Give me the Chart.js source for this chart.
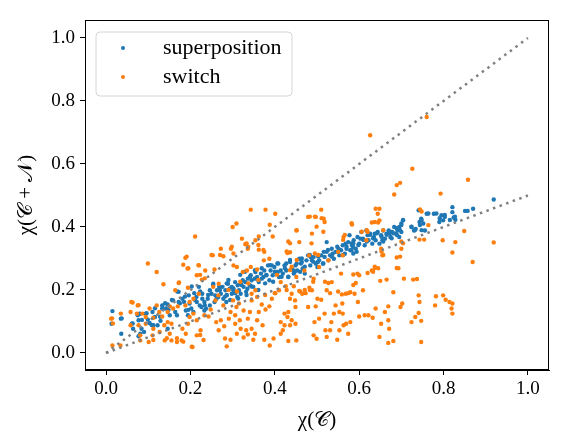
<!DOCTYPE html>
<html>
<head>
<meta charset="utf-8">
<script src="https://cdn.jsdelivr.net/npm/chart.js@4.4.1/dist/chart.umd.min.js"></script>
<style>
  html, body { margin: 0; padding: 0; background: #fff; }
</style>
</head>
<body>
<canvas id="chart" width="573" height="446"></canvas>
<script>
// superposition points [x, y]
const superpositionPoints = [
  [0.015,0.133],[0.013,0.093],[0.035,0.109],[0.036,0.061],[0.061,0.093],[0.064,0.077],[0.075,0.120],[0.077,0.104],
  [0.080,0.125],[0.084,0.077],[0.090,0.067],[0.077,0.053],[0.081,0.061],[0.094,0.125],[0.099,0.106],[0.103,0.095],
  [0.110,0.130],[0.116,0.114],[0.112,0.088],[0.122,0.088],[0.129,0.102],[0.133,0.141],[0.133,0.151],[0.142,0.141],
  [0.146,0.154],[0.151,0.120],[0.146,0.077],[0.159,0.167],[0.164,0.130],[0.168,0.120],[0.172,0.162],[0.172,0.194],
  [0.181,0.172],[0.185,0.162],[0.189,0.135],[0.194,0.120],[0.196,0.183],[0.198,0.157],[0.202,0.141],[0.207,0.130],
  [0.209,0.190],[0.214,0.178],[0.215,0.162],[0.220,0.210],[0.222,0.151],[0.226,0.146],[0.228,0.172],[0.233,0.162],
  [0.237,0.141],[0.241,0.172],[0.246,0.151],[0.250,0.188],[0.254,0.220],[0.257,0.162],[0.263,0.199],[0.266,0.178],
  [0.272,0.188],[0.276,0.210],[0.278,0.172],[0.283,0.199],[0.286,0.183],[0.289,0.220],[0.293,0.204],[0.298,0.188],
  [0.302,0.199],[0.306,0.225],[0.311,0.178],[0.312,0.215],[0.315,0.199],[0.319,0.188],[0.324,0.231],[0.326,0.210],
  [0.330,0.225],[0.332,0.194],[0.336,0.236],[0.341,0.215],[0.343,0.247],[0.345,0.231],[0.349,0.210],[0.354,0.257],
  [0.358,0.241],[0.362,0.225],[0.367,0.252],[0.369,0.236],[0.375,0.262],[0.380,0.247],[0.384,0.278],[0.387,0.231],
  [0.390,0.262],[0.395,0.247],[0.399,0.273],[0.404,0.257],[0.406,0.284],[0.410,0.241],[0.414,0.262],[0.419,0.252],
  [0.423,0.278],[0.427,0.262],[0.432,0.241],[0.436,0.289],[0.440,0.268],[0.445,0.252],[0.449,0.278],[0.453,0.262],
  [0.458,0.299],[0.462,0.284],[0.466,0.268],[0.471,0.252],[0.475,0.294],[0.479,0.310],[0.484,0.278],[0.488,0.294],
  [0.492,0.305],[0.497,0.284],[0.501,0.273],[0.505,0.294],[0.510,0.310],[0.514,0.284],[0.518,0.305],[0.523,0.352],
  [0.523,0.321],[0.527,0.294],[0.531,0.310],[0.535,0.331],[0.540,0.299],[0.544,0.321],[0.548,0.337],[0.553,0.310],
  [0.557,0.326],[0.561,0.342],[0.566,0.315],[0.570,0.331],[0.574,0.352],[0.577,0.374],[0.579,0.326],[0.583,0.342],
  [0.587,0.358],[0.592,0.331],[0.596,0.368],[0.600,0.347],[0.605,0.384],[0.609,0.363],[0.613,0.342],[0.617,0.389],
  [0.622,0.358],[0.626,0.379],[0.631,0.347],[0.635,0.368],[0.639,0.358],[0.644,0.384],[0.648,0.347],[0.652,0.374],
  [0.657,0.389],[0.661,0.363],[0.665,0.379],[0.670,0.389],[0.674,0.368],[0.678,0.384],[0.683,0.400],[0.687,0.379],
  [0.691,0.389],[0.695,0.368],[0.700,0.411],[0.704,0.421],[0.700,0.384],[0.724,0.400],[0.730,0.389],[0.734,0.394],
  [0.741,0.453],[0.743,0.416],[0.747,0.426],[0.752,0.411],[0.756,0.389],[0.760,0.442],[0.777,0.442],[0.790,0.416],
  [0.795,0.437],[0.799,0.421],[0.803,0.432],[0.821,0.463],[0.824,0.430],[0.828,0.423],[0.821,0.447],[0.851,0.451],
  [0.857,0.451],[0.870,0.458],[0.919,0.487],
  [0.228,0.188],[0.233,0.135],[0.246,0.199],[0.259,0.183],[0.268,0.210],[0.285,0.162],[0.298,0.210],[0.319,0.220],
  [0.335,0.204],[0.352,0.236],[0.373,0.241],[0.393,0.278],[0.407,0.257],[0.427,0.284],[0.447,0.257],[0.464,0.289],
  [0.485,0.305],[0.502,0.289],[0.516,0.321],[0.537,0.315],[0.551,0.331],[0.568,0.347],[0.585,0.337],[0.603,0.363],
  [0.620,0.374],[0.637,0.379],[0.655,0.358],[0.672,0.379],[0.690,0.374],[0.695,0.400],
  [0.290,0.232],[0.302,0.205],[0.318,0.248],[0.329,0.258],[0.341,0.242],[0.353,0.263],[0.361,0.232],[0.369,0.269],
  [0.380,0.248],[0.389,0.279],[0.400,0.258],[0.408,0.284],[0.416,0.242],[0.424,0.269],[0.436,0.295],[0.444,0.263],
  [0.452,0.284],[0.464,0.300],[0.471,0.274],[0.483,0.311],[0.491,0.290],[0.503,0.306],[0.515,0.284],[0.526,0.327],
  [0.535,0.306],[0.550,0.321],[0.562,0.311],[0.570,0.337],[0.582,0.348],[0.586,0.316],[0.306,0.190],[0.321,0.216],
  [0.345,0.211],[0.377,0.221],[0.396,0.226],[0.432,0.242],[0.460,0.258],[0.286,0.184],[0.294,0.168],[0.313,0.173],
  [0.333,0.184],[0.361,0.200],
  [0.037,0.110],[0.063,0.094],[0.079,0.124],[0.085,0.105],[0.096,0.126],[0.108,0.089],[0.116,0.142],[0.128,0.115],
  [0.140,0.158],[0.148,0.137],[0.156,0.168],[0.169,0.195],[0.175,0.158],[0.187,0.179],[0.195,0.137],[0.203,0.211],
  [0.211,0.168],[0.223,0.195],[0.234,0.152],[0.242,0.184],[0.254,0.216],[0.262,0.173],[0.270,0.200],[0.282,0.179],
  [0.286,0.221],
  [0.783,0.443],[0.791,0.428],[0.803,0.438],[0.815,0.422],[0.827,0.433],[0.764,0.443],[0.748,0.422],[0.744,0.406],
  [0.748,0.390],[0.732,0.390],[0.724,0.401],[0.704,0.422],[0.700,0.406],[0.697,0.390],[0.689,0.396],[0.681,0.380],
  [0.673,0.385],[0.665,0.375],[0.653,0.369],[0.642,0.380],[0.633,0.364],[0.626,0.375],[0.618,0.354],[0.610,0.359],
  [0.598,0.343],[0.586,0.348],[0.582,0.327],[0.594,0.321],[0.657,0.354],[0.677,0.364]
];

// switch points [x, y]
const switchPoints = [
  [0.760,0.749],[0.626,0.691],[0.726,0.585],[0.858,0.550],[0.697,0.540],[0.689,0.533],[0.683,0.503],[0.793,0.506],
  [0.849,0.387],[0.919,0.351],[0.869,0.289],[0.798,0.358],[0.821,0.319],[0.828,0.352],[0.743,0.360],[0.754,0.360],
  [0.700,0.331],[0.689,0.303],[0.689,0.270],[0.706,0.236],[0.728,0.233],[0.737,0.235],[0.681,0.193],[0.665,0.233],
  [0.650,0.229],[0.637,0.270],[0.630,0.262],[0.620,0.254],[0.609,0.199],[0.600,0.247],[0.586,0.249],[0.589,0.188],
  [0.579,0.193],[0.568,0.188],[0.559,0.186],[0.560,0.157],[0.553,0.130],[0.561,0.125],[0.540,0.125],[0.544,0.151],
  [0.579,0.098],[0.569,0.093],[0.563,0.088],[0.574,0.061],[0.553,0.072],[0.531,0.072],[0.548,0.042],[0.534,0.098],
  [0.518,0.125],[0.510,0.169],[0.523,0.199],[0.527,0.222],[0.535,0.225],[0.557,0.252],[0.563,0.368],[0.583,0.408],
  [0.648,0.421],[0.644,0.442],[0.639,0.458],[0.648,0.458],[0.620,0.384],[0.617,0.358],[0.637,0.416],[0.652,0.331],
  [0.655,0.310],[0.613,0.120],[0.622,0.120],[0.639,0.141],[0.669,0.148],[0.661,0.130],[0.652,0.093],[0.669,0.104],
  [0.671,0.077],[0.648,0.051],[0.669,0.032],[0.681,0.038],[0.698,0.146],[0.702,0.157],[0.724,0.098],[0.733,0.114],
  [0.741,0.127],[0.741,0.183],[0.743,0.162],[0.747,0.102],[0.747,0.035],[0.782,0.180],[0.780,0.151],[0.799,0.183],
  [0.805,0.169],[0.814,0.162],[0.819,0.141],[0.821,0.157],[0.821,0.125],[0.632,0.112],[0.600,0.116],[0.494,0.098],
  [0.492,0.056],[0.499,0.045],[0.501,0.172],[0.497,0.148],[0.488,0.199],[0.482,0.207],[0.473,0.190],[0.465,0.188],
  [0.458,0.197],[0.451,0.241],[0.445,0.212],[0.440,0.188],[0.436,0.172],[0.448,0.167],[0.449,0.146],[0.432,0.130],
  [0.423,0.125],[0.430,0.114],[0.440,0.104],[0.449,0.093],[0.436,0.088],[0.423,0.088],[0.414,0.098],[0.419,0.072],
  [0.414,0.061],[0.432,0.038],[0.451,0.040],[0.397,0.046],[0.388,0.024],[0.375,0.042],[0.371,0.088],[0.358,0.104],
  [0.362,0.130],[0.369,0.154],[0.378,0.138],[0.387,0.148],[0.393,0.172],[0.401,0.190],[0.410,0.199],[0.414,0.225],
  [0.426,0.212],[0.430,0.317],[0.436,0.320],[0.451,0.389],[0.458,0.352],[0.479,0.432],[0.497,0.432],[0.510,0.455],
  [0.516,0.426],[0.518,0.416],[0.488,0.379],[0.481,0.310],[0.470,0.262],[0.401,0.442],[0.388,0.407],[0.395,0.370],
  [0.362,0.370],[0.354,0.358],[0.378,0.455],[0.343,0.455],[0.309,0.411],[0.300,0.400],[0.322,0.363],[0.330,0.345],
  [0.336,0.331],[0.296,0.331],[0.272,0.331],[0.278,0.307],[0.302,0.278],[0.310,0.273],[0.324,0.257],[0.334,0.262],
  [0.343,0.273],[0.358,0.265],[0.362,0.328],[0.375,0.321],[0.374,0.294],[0.387,0.299],[0.253,0.310],[0.257,0.265],
  [0.235,0.262],[0.220,0.278],[0.215,0.247],[0.227,0.233],[0.211,0.370],[0.188,0.302],[0.183,0.280],[0.193,0.268],
  [0.099,0.284],[0.120,0.257],[0.136,0.218],[0.172,0.222],[0.164,0.199],[0.194,0.207],[0.220,0.188],[0.207,0.172],
  [0.198,0.162],[0.188,0.151],[0.170,0.148],[0.159,0.141],[0.151,0.148],[0.146,0.130],[0.133,0.116],[0.126,0.130],
  [0.120,0.151],[0.103,0.141],[0.094,0.114],[0.086,0.125],[0.075,0.151],[0.060,0.162],[0.058,0.130],[0.035,0.125],
  [0.012,0.109],[0.015,0.024],[0.034,0.024],[0.058,0.088],[0.077,0.088],[0.081,0.056],[0.081,0.040],[0.101,0.035],
  [0.110,0.056],[0.112,0.077],[0.127,0.067],[0.138,0.088],[0.151,0.061],[0.155,0.093],[0.146,0.098],[0.139,0.040],
  [0.155,0.040],[0.168,0.035],[0.179,0.040],[0.189,0.061],[0.181,0.077],[0.194,0.093],[0.198,0.114],[0.207,0.125],
  [0.215,0.104],[0.224,0.072],[0.215,0.056],[0.205,0.019],[0.233,0.120],[0.243,0.116],[0.248,0.138],[0.259,0.167],
  [0.266,0.183],[0.261,0.098],[0.272,0.104],[0.267,0.072],[0.280,0.085],[0.282,0.046],[0.286,0.021],[0.295,0.042],
  [0.291,0.109],[0.295,0.130],[0.306,0.120],[0.309,0.146],[0.301,0.167],[0.315,0.157],[0.326,0.135],[0.341,0.130],
  [0.336,0.109],[0.317,0.104],[0.306,0.093],[0.319,0.077],[0.332,0.072],[0.345,0.077],[0.336,0.059],[0.353,0.061],
  [0.349,0.042],[0.326,0.049],[0.310,0.061],[0.354,0.199],[0.345,0.188],[0.345,0.167],[0.358,0.178],[0.278,0.151],
  [0.267,0.220],[0.254,0.210],[0.479,0.146],[0.492,0.236],[0.505,0.273],[0.527,0.294],[0.561,0.310],[0.596,0.252],
  [0.592,0.222],[0.597,0.162],[0.520,0.072],[0.505,0.109],[0.523,0.051],[0.073,0.125],[0.094,0.093],[0.112,0.112],
  [0.744,0.456],[0.748,0.449],[0.630,0.414],[0.645,0.414],[0.606,0.385],[0.618,0.390],[0.657,0.390],[0.764,0.406],
  [0.700,0.354],[0.704,0.348],[0.697,0.306],[0.693,0.269],[0.653,0.322],[0.657,0.311],[0.637,0.274],[0.645,0.269],
  [0.633,0.258],
  [0.483,0.433],[0.495,0.433],[0.511,0.428],[0.499,0.401],[0.515,0.385],[0.582,0.412],[0.452,0.390],[0.432,0.354],
  [0.436,0.348],[0.487,0.348],[0.566,0.375],[0.562,0.359],[0.361,0.343],[0.373,0.327],[0.333,0.348],[0.337,0.337],
  [0.298,0.337],[0.302,0.316],[0.428,0.322],[0.452,0.295],[0.495,0.316],[0.503,0.311],[0.550,0.321],[0.440,0.274],
  [0.436,0.263],[0.405,0.248],[0.361,0.232],[0.318,0.226],[0.337,0.221],[0.290,0.200],[0.310,0.195],
  [0.377,0.184],[0.400,0.190],[0.428,0.200],[0.460,0.195],[0.471,0.200],[0.483,0.200],[0.491,0.226],[0.519,0.226],
  [0.531,0.190],[0.550,0.195],[0.574,0.190],[0.586,0.216],
  [0.191,0.306],[0.195,0.269],[0.173,0.224],[0.219,0.279],[0.223,0.248],[0.234,0.237],[0.250,0.311],[0.270,0.311],
  [0.063,0.160],[0.077,0.152],[0.014,0.110],[0.016,0.094],[0.112,0.041],[0.144,0.047],[0.168,0.047],[0.183,0.036],
  [0.203,0.020],[0.223,0.057],[0.231,0.041]
];

// dotted reference lines
const identityLine = [[0, 0], [1, 1]];
const halfLine = [[0, 0], [1, 0.5]];

const xTicks = [0.0, 0.2, 0.4, 0.6, 0.8, 1.0];
const yTicks = [0.0, 0.2, 0.4, 0.6, 0.8, 1.0];

const toXY = pts => pts.map(p => ({ x: p[0], y: p[1] }));

const serif = '"Liberation Serif", "DejaVu Serif", serif';
const blue = '#1f77b4';
const orange = '#ff7f0e';

// frame around plot + matplotlib style legend box
const frameLegend = {
  id: 'frameLegend',
  afterDraw(chart) {
    const { ctx, chartArea: a } = chart;
    ctx.save();
    ctx.strokeStyle = '#000';
    ctx.lineWidth = 1;
    ctx.strokeRect(a.left + 0.5, a.top + 0.5, a.right - a.left - 1, a.bottom - a.top - 1);

    const bx = a.left + 11, by = a.top + 12, bw = 196, bh = 64, r = 4;
    ctx.beginPath();
    ctx.moveTo(bx + r, by);
    ctx.arcTo(bx + bw, by, bx + bw, by + bh, r);
    ctx.arcTo(bx + bw, by + bh, bx, by + bh, r);
    ctx.arcTo(bx, by + bh, bx, by, r);
    ctx.arcTo(bx, by, bx + bw, by, r);
    ctx.closePath();
    ctx.fillStyle = 'rgba(255,255,255,0.8)';
    ctx.fill();
    ctx.strokeStyle = '#d6d6d6';
    ctx.stroke();

    const entries = chart.data.datasets.filter(d => d.showInLegend);
    ctx.font = '22px ' + serif;
    ctx.textBaseline = 'middle';
    entries.forEach((d, i) => {
      const yy = by + 16 + i * 29;
      ctx.fillStyle = d.backgroundColor;
      ctx.beginPath();
      ctx.arc(bx + 27, yy, 2, 0, Math.PI * 2);
      ctx.fill();
      ctx.fillStyle = '#000';
      ctx.fillText(d.label, bx + 67, yy);
    });
    ctx.restore();
  }
};

new Chart(document.getElementById('chart'), {
  type: 'scatter',
  data: {
    datasets: [
      {
        label: 'superposition',
        data: toXY(superpositionPoints),
        backgroundColor: blue,
        borderWidth: 0,
        pointRadius: 2.2,
        showInLegend: true,
        order: 3
      },
      {
        label: 'switch',
        data: toXY(switchPoints),
        backgroundColor: orange,
        borderWidth: 0,
        pointRadius: 2.2,
        showInLegend: true,
        order: 2
      },
      {
        label: 'y = x',
        type: 'line',
        data: toXY(identityLine),
        borderColor: '#808080',
        borderWidth: 2.5,
        borderDash: [2.5, 4.5],
        pointRadius: 0,
        fill: false,
        order: 1
      },
      {
        label: 'y = x/2',
        type: 'line',
        data: toXY(halfLine),
        borderColor: '#808080',
        borderWidth: 2.5,
        borderDash: [2.5, 4.5],
        pointRadius: 0,
        fill: false,
        order: 1
      }
    ]
  },
  options: {
    responsive: false,
    animation: false,
    devicePixelRatio: 1,
    layout: { padding: { left: 0, right: 24, top: 20, bottom: 0 } },
    plugins: {
      legend: { display: false },
      tooltip: { enabled: false }
    },
    scales: {
      x: {
        type: 'linear',
        min: -0.05,
        max: 1.05,
        afterBuildTicks: s => { s.ticks = xTicks.map(v => ({ value: v })); },
        afterFit: s => { s.height = 76; },
        ticks: {
          color: '#000',
          font: { family: serif, size: 19 },
          padding: 3,
          maxRotation: 0,
          callback: v => v.toFixed(1)
        },
        grid: { display: true, drawOnChartArea: false, drawTicks: true, tickLength: 5, color: '#000' },
        border: { display: true, color: '#000' },
        title: {
          display: true,
          text: 'χ(𝒞)',
          color: '#000',
          font: { family: serif, size: 21 },
          padding: { top: 2, bottom: 13 }
        }
      },
      y: {
        type: 'linear',
        min: -0.054,
        max: 1.057,
        afterBuildTicks: s => { s.ticks = yTicks.map(v => ({ value: v })); },
        afterFit: s => { s.width = 85; },
        ticks: {
          color: '#000',
          font: { family: serif, size: 19 },
          padding: 5,
          callback: v => v.toFixed(1)
        },
        grid: { display: true, drawOnChartArea: false, drawTicks: true, tickLength: 5, color: '#000' },
        border: { display: true, color: '#000' },
        title: {
          display: true,
          text: 'χ(𝒞 + 𝒩)',
          color: '#000',
          font: { family: serif, size: 21 },
          padding: { bottom: 0, top: 14 }
        }
      }
    }
  },
  plugins: [frameLegend]
});
</script>
</body>
</html>
